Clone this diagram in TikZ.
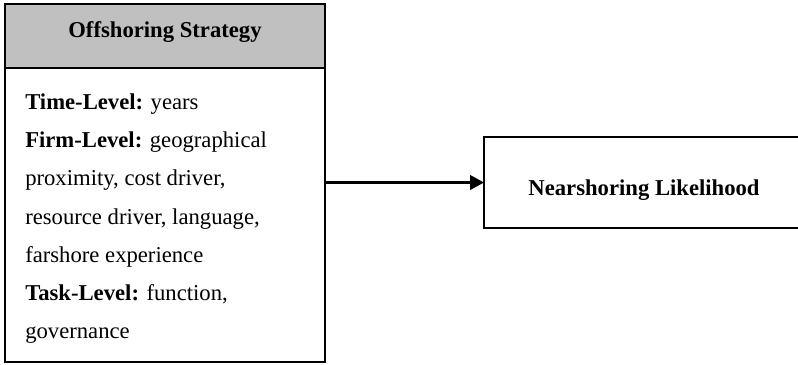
\documentclass[tikz,border=0pt]{standalone}
\usepackage{fontspec}
\setmainfont{Liberation Serif}
\usetikzlibrary{arrows.meta,positioning}

\definecolor{headgray}{RGB}{192,192,192}
\tikzset{
    boxframe/.style={draw, line width=1.5pt, rectangle, inner sep=0pt, outer sep=0pt},
    boxtext/.style={font=\fontsize{17}{28.65}\selectfont, inner sep=0pt},
    link/.style={line width=1.6pt, -{Triangle[length=10.5pt,width=11pt]}}
}

\begin{document}
\begin{tikzpicture}[x=0.75pt,y=-0.75pt]
    \useasboundingbox (0,0) rectangle (798,364);

    %Define the strategy box
    \node[boxframe, fill=headgray, minimum width=240pt, minimum height=48pt] (strategy) at (165,36) {};
    \node[boxframe, anchor=north, minimum width=240pt, minimum height=220.5pt] (levels) at (strategy.south) {};

    % Add the titles
    \node[boxtext, anchor=base, font=\fontsize{17}{20}\selectfont\bfseries] (strategytitle) at (165,37.5) {Offshoring Strategy};
    \node[boxtext, anchor=north west, align=left] (levelstext) at (25,93.5) {%
        \textbf{Time-Level:} years\\
        \textbf{Firm-Level:} geographical\\
        proximity, cost driver,\\
        resource driver, language,\\
        farshore experience\\
        \textbf{Task-Level:} function,\\
        governance};

    % Add the outcome box
    \node[boxframe, anchor=west, minimum width=255pt, minimum height=68.25pt] (nearshore) at (484,182.5) {};
    \node[boxtext, anchor=base, font=\fontsize{17}{20}\selectfont\bfseries] (nearshoretitle) at (644,195) {Nearshoring Likelihood};

    % Add the link
    \draw[link] (levels.east |- nearshore.west) -- (nearshore.west);
\end{tikzpicture}
\end{document}
